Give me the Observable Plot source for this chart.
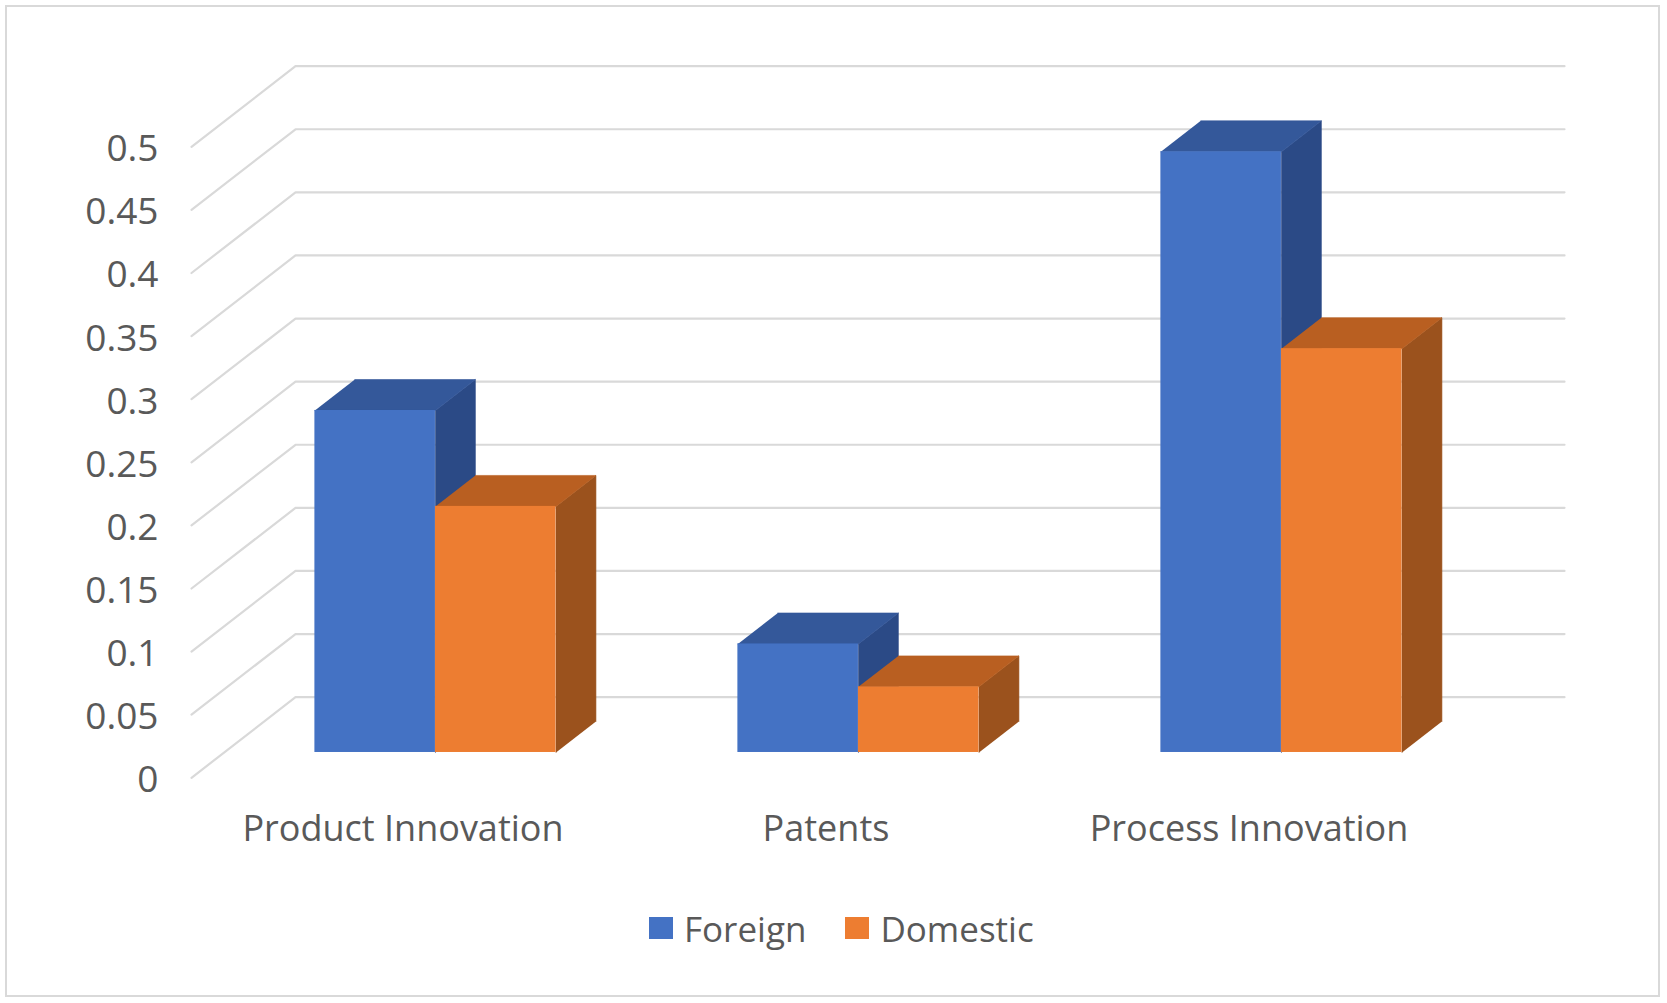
<!DOCTYPE html>
<html>
<head>
<meta charset="utf-8">
<script src="https://cdn.jsdelivr.net/npm/d3@7"></script>
<script src="https://cdn.jsdelivr.net/npm/@observablehq/plot@0.6"></script>
<style>
  html, body { margin: 0; padding: 0; background: #fff; }
  #wrap { position: relative; width: 1667px; height: 1003px; overflow: hidden; font-family: "Open Sans", sans-serif; }
  #wrap svg { position: absolute; left: 0; top: 0; }
  #frame { position: absolute; left: 5px; top: 5px; width: 1655px; height: 992px; box-sizing: border-box; border: 2.5px solid #d9d9d9; pointer-events: none; }
  #legend { position: absolute; left: 649px; top: 903px; height: 50px; display: flex; align-items: center; font-size: 35px; line-height: 1; color: #595959; }
  #legend .sw { width: 24px; height: 22px; margin-right: 11px; }
  #legend .item { display: flex; align-items: center; margin-right: 39px; }
</style>
</head>
<body>
<div id="wrap">
  <div id="frame"></div>
  <div id="legend"></div>
</div>
<script>
// ---- data ----
const categories = ["Product Innovation", "Patents", "Process Innovation"];
const series = ["Foreign", "Domestic"];
const foreign = [0.271, 0.086, 0.476];
const domestic = [0.195, 0.052, 0.32];
const yTicks = [0, 0.05, 0.1, 0.15, 0.2, 0.25, 0.3, 0.35, 0.4, 0.45, 0.5];
const yTickLabels = ["0", "0.05", "0.1", "0.15", "0.2", "0.25", "0.3", "0.35", "0.4", "0.45", "0.5"];

// ---- styling ----
const frontColors = ["#4472C4", "#ED7D31"];
const topColors = ["#34589A", "#B95F21"];
const sideColors = ["#2B4A86", "#9B521D"];
const textColor = "#595959";
const gridColor = "#d9d9d9";

// 3-D geometry (in data units of the scales)
const depthX = 0.2459;   // full depth, x units (categories)
const depthY = 0.0639;   // full depth, y units (values)
const barStart = 0.2145, barW = 0.285;
const f1 = 0.314, f2 = 0.698; // front / back depth fractions of the bars

const values = [foreign, domestic];

// gridlines: diagonal on side wall + horizontal back wall line
const gridPts = [];
yTicks.forEach((t, j) => {
  gridPts.push({t: j, x: 0, y: t});
  gridPts.push({t: j, x: depthX, y: t + depthY});
  gridPts.push({t: j, x: categories.length + depthX, y: t + depthY});
});

const facePts = [];
const fronts = [];
const a = f1 * depthY, b = f2 * depthY, dd = (f2 - f1) * depthX;
categories.forEach((c, i) => {
  series.forEach((s, k) => {
    const v = values[k][i];
    const x1 = i + barStart + k * barW + f1 * depthX;
    const x2 = x1 + barW;
    const sid = `side-${i}-${k}`, tid = `top-${i}-${k}`;
    [[x2, a], [x2, v + a], [x2 + dd, v + b], [x2 + dd, b]].forEach(([x, y]) =>
      facePts.push({id: sid, x, y, color: sideColors[k]}));
    [[x1, v + a], [x2, v + a], [x2 + dd, v + b], [x1 + dd, v + b]].forEach(([x, y]) =>
      facePts.push({id: tid, x, y, color: topColors[k]}));
    fronts.push({x1, x2, y1: a, y2: v + a, color: frontColors[k]});
  });
});

const chart = Plot.plot({
  width: 1667,
  height: 1003,
  marginLeft: 191,
  marginRight: 103,
  marginTop: 20.1,
  marginBottom: 225.7,
  x: {domain: [0, categories.length + depthX], axis: null},
  y: {domain: [0, 0.6], axis: null},
  color: {type: "identity"},
  style: {fontFamily: "'Open Sans', sans-serif", background: "transparent", overflow: "visible"},
  marks: [
    Plot.line(gridPts, {x: "x", y: "y", z: "t", stroke: gridColor, strokeWidth: 2.2}),
    Plot.line(facePts, {x: "x", y: "y", z: "id", fill: "color", stroke: "color", strokeWidth: 0.6}),
    Plot.rect(fronts, {x1: "x1", x2: "x2", y1: "y1", y2: "y2", fill: "color"}),
    Plot.text(yTicks, {x: () => 0, y: d => d, text: (d, i) => yTickLabels[i], dx: -33, dy: 14.4,
      textAnchor: "end", lineAnchor: "bottom", fontSize: 37, fill: textColor}),
    Plot.text(categories, {x: (d, i) => i + 0.5, y: () => 0, text: d => d, dy: 63,
      lineAnchor: "bottom", fontSize: 36, fill: textColor})
  ]
});
document.getElementById("wrap").insertBefore(chart, document.getElementById("frame"));

const legend = document.getElementById("legend");
series.forEach((s, k) => {
  const item = document.createElement("div");
  item.className = "item";
  const sw = document.createElement("span");
  sw.className = "sw";
  sw.style.background = frontColors[k];
  const lab = document.createElement("span");
  lab.textContent = s;
  item.appendChild(sw);
  item.appendChild(lab);
  legend.appendChild(item);
});
</script>
</body>
</html>
